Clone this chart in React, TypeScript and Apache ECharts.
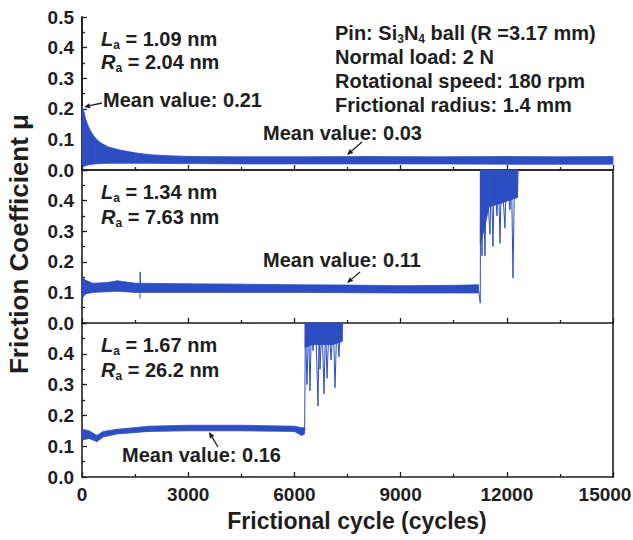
import React, { useEffect, useRef } from "react";
import * as echarts from "echarts";

// ---------- data ----------
const xTicks = [0, 3000, 6000, 9000, 12000, 15000];

// Panel 1 (La = 1.09 nm) noisy band envelope
const p1Cycles = [0, 50, 120, 226, 370, 508, 750, 1073, 1500, 1920, 2600, 3100, 4500, 6000, 8000, 10000, 12000, 13500, 15000];
const p1Lo = [0.02, 0.012, 0.015, 0.018, 0.02, 0.021, 0.022, 0.022, 0.022, 0.022, 0.021, 0.021, 0.02, 0.02, 0.02, 0.02, 0.019, 0.019, 0.019];
const p1Hi = [0.21, 0.19, 0.16, 0.13, 0.105, 0.09, 0.075, 0.065, 0.056, 0.05, 0.046, 0.044, 0.043, 0.043, 0.044, 0.043, 0.044, 0.043, 0.044];

// Panel 2 (La = 1.34 nm)
const p2Cycles = [0, 100, 300, 700, 1000, 1500, 3000, 4500, 6000, 7500, 9000, 10500, 11200];
const p2Lo = [0.08, 0.095, 0.1, 0.102, 0.104, 0.1, 0.1, 0.1, 0.1, 0.099, 0.098, 0.098, 0.098];
const p2Hi = [0.15, 0.14, 0.13, 0.132, 0.138, 0.13, 0.128, 0.127, 0.125, 0.124, 0.122, 0.123, 0.125];
const p2BurstCycles = [11250, 11350, 11500, 11800, 12300];
const p2BurstLo = [0.26, 0.3, 0.38, 0.39, 0.41];
const p2BurstHi = [0.5, 0.5, 0.5, 0.5, 0.5];
const p2SpikeCycles = [11200, 11250, 11260, 11300, 11330, 11384, 11420, 11525, 11560, 11610, 11650, 11723, 11760, 11808, 11850, 11949, 11990, 12090, 12130, 12175, 12220, 12300, 12320];
const p2SpikeVals = [0.11, 0.065, 0.5, 0.22, 0.5, 0.22, 0.5, 0.29, 0.5, 0.25, 0.5, 0.35, 0.5, 0.26, 0.5, 0.31, 0.5, 0.37, 0.5, 0.147, 0.5, 0.41, 0.5];
const p2NoiseCycles = [1640, 1645, 1650];
const p2NoiseVals = [0.08, 0.167, 0.1];

// Panel 3 (La = 1.67 nm)
const p3Cycles = [0, 200, 420, 600, 1000, 1900, 3000, 4500, 6000, 6200, 6290];
const p3Lo = [0.12, 0.125, 0.115, 0.13, 0.14, 0.148, 0.15, 0.15, 0.148, 0.135, 0.14];
const p3Hi = [0.155, 0.15, 0.135, 0.148, 0.155, 0.165, 0.168, 0.168, 0.165, 0.16, 0.16];
const p3BurstCycles = [6300, 6500, 6800, 7100, 7345];
const p3BurstLo = [0.42, 0.43, 0.43, 0.43, 0.44];
const p3BurstHi = [0.5, 0.5, 0.5, 0.5, 0.5];
const p3SpikeCycles = [6290, 6299, 6310, 6356, 6400, 6441, 6480, 6525, 6600, 6667, 6700, 6723, 6780, 6836, 6880, 6921, 6980, 7034, 7100, 7147, 7200, 7260, 7300, 7345, 7360];
const p3SpikeVals = [0.15, 0.15, 0.5, 0.3, 0.5, 0.28, 0.5, 0.41, 0.5, 0.23, 0.5, 0.35, 0.5, 0.27, 0.5, 0.32, 0.5, 0.38, 0.5, 0.29, 0.5, 0.39, 0.5, 0.44, 0.5];

const panelLa = ["1.09", "1.34", "1.67"];
const panelRa = ["2.04", "7.63", "26.2"];
const meanValues = ["0.21", "0.03", "0.11", "0.16"];
const testInfo = ["Normal load: 2 N", "Rotational speed: 180 rpm", "Frictional radius: 1.4 mm"];
const xTitle = "Frictional cycle (cycles)";
const yTitle = "Friction Coefficient μ";

// ---------- style ----------
const BLUE = "#2d4ec2";
const INK = "#1e1e1e";
const FONT = '"Liberation Sans", Arial, sans-serif';
const GRID_LEFT = 82;
const GRID_RIGHT = 20;
const GRID_TOPS = [17, 170, 323];
const GRID_H = [153, 153, 154];

function segments(c: number[], lo: number[], hi: number[]) {
  const out: number[][] = [];
  for (let i = 0; i < c.length - 1; i++) {
    out.push([c[i], lo[i], hi[i], c[i + 1], lo[i + 1], hi[i + 1]]);
  }
  return out;
}

function bandSeries(idx: number, c: number[], lo: number[], hi: number[]) {
  return {
    type: "custom",
    xAxisIndex: idx,
    yAxisIndex: idx,
    silent: true,
    dimensions: ["x0", "lo0", "hi0", "x1", "lo1", "hi1"],
    encode: { x: [0, 3], y: [1, 2, 4, 5] },
    data: segments(c, lo, hi),
    renderItem: (_p: any, api: any) => {
      const a = api.coord([api.value(0), api.value(1)]);
      const b = api.coord([api.value(3), api.value(4)]);
      const cc = api.coord([api.value(3), api.value(5)]);
      const d = api.coord([api.value(0), api.value(2)]);
      return {
        type: "polygon",
        shape: { points: [a, b, cc, d] },
        style: { fill: BLUE, stroke: BLUE, lineWidth: 0.8 },
      };
    },
  };
}

function lineSeries(idx: number, c: number[], v: number[]) {
  return {
    type: "line",
    xAxisIndex: idx,
    yAxisIndex: idx,
    silent: true,
    symbol: "none",
    clip: true,
    lineStyle: { color: BLUE, width: 1 },
    data: c.map((x, i) => [x, v[i]]),
  };
}

function arrow(x1: number, y1: number, x2: number, y2: number) {
  const ang = Math.atan2(y2 - y1, x2 - x1);
  const L = 6, W = 2.6;
  const bx = x2 - L * Math.cos(ang), by = y2 - L * Math.sin(ang);
  const px = -Math.sin(ang) * W, py = Math.cos(ang) * W;
  return [
    { type: "line", shape: { x1, y1, x2: bx, y2: by }, style: { stroke: INK, lineWidth: 1.3 } },
    { type: "polygon", shape: { points: [[x2, y2], [bx + px, by + py], [bx - px, by - py]] }, style: { fill: INK } },
  ];
}

const richStyles = {
  i: { fontFamily: FONT, fontSize: 20, fontWeight: "bold", fontStyle: "italic", fill: INK, color: INK, lineHeight: 24 },
  n: { fontFamily: FONT, fontSize: 20, fontWeight: "bold", fill: INK, color: INK, lineHeight: 24 },
  s: { fontFamily: FONT, fontSize: 12, fontWeight: "bold", fill: INK, color: INK, lineHeight: 12, verticalAlign: "bottom" },
};

function richText(x: number, y: number, text: string) {
  return {
    type: "text",
    x,
    y,
    style: {
      text,
      rich: richStyles,
      font: `bold 20px ${FONT}`,
      fill: INK,
      verticalAlign: "middle",
      textVerticalAlign: "middle",
    },
  };
}

function plainText(x: number, y: number, text: string, size = 20, extra: any = {}) {
  return {
    type: "text",
    x,
    y,
    ...extra,
    style: {
      text,
      font: `bold ${size}px ${FONT}`,
      fill: INK,
      verticalAlign: "middle",
      textVerticalAlign: "middle",
      ...(extra.style || {}),
    },
  };
}

export default function App() {
  const ref = useRef<HTMLDivElement>(null);
  useEffect(() => {
    if (!ref.current) return;
    const chart = echarts.init(ref.current, undefined, { renderer: "svg" });
    const axisLine = { show: true, lineStyle: { color: INK, width: 1.6 } };
    const tickStyle = { color: INK, width: 1.3 };
    const grids = GRID_TOPS.map((t, i) => ({
      left: GRID_LEFT,
      right: GRID_RIGHT,
      top: t,
      height: GRID_H[i],
      containLabel: false,
      outerBoundsMode: "none",
    }));
    const xLast = xTicks[xTicks.length - 1];
    const xAxes: any[] = [];
    const yAxes: any[] = [];
    for (let k = 0; k < 3; k++) {
      xAxes.push({
        gridIndex: k,
        type: "value",
        min: xTicks[0],
        max: xLast,
        interval: xTicks[1] - xTicks[0],
        axisLine,
        axisTick: { show: true, inside: true, length: 5, lineStyle: tickStyle },
        minorTick: { show: true, splitNumber: 2, length: 3, lineStyle: tickStyle },
        splitLine: { show: false },
        axisLabel: {
          show: k === 2,
          color: INK,
          fontFamily: FONT,
          fontWeight: "bold",
          fontSize: 19,
          margin: 8,
          formatter: (v: number) => (v === xLast ? `{r|${v}}` : String(v)),
          rich: {
            r: { fontFamily: FONT, fontWeight: "bold", fontSize: 19, color: INK, padding: [0, 16, 0, 0] },
          },
        },
      });
      yAxes.push({
        gridIndex: k,
        type: "value",
        min: 0,
        max: 0.5,
        interval: 0.1,
        axisLine,
        axisTick: { show: true, inside: true, length: 5, lineStyle: tickStyle },
        minorTick: { show: true, splitNumber: 2, length: 3, lineStyle: tickStyle },
        splitLine: { show: false },
        axisLabel: {
          color: INK,
          fontFamily: FONT,
          fontWeight: "bold",
          fontSize: 19,
          margin: 8,
          formatter: (v: number) => (k > 0 && v > 0.45 ? "" : v.toFixed(1)),
        },
      });
    }
    // frame: right side and top
    for (let k = 0; k < 3; k++) {
      yAxes.push({
        gridIndex: k,
        type: "value",
        position: "right",
        min: 0,
        max: 0.5,
        axisLine,
        axisTick: { show: false },
        axisLabel: { show: false },
        splitLine: { show: false },
      });
    }
    xAxes.push({
      gridIndex: 0,
      type: "value",
      position: "top",
      min: 0,
      max: 15000,
      axisLine,
      axisTick: { show: false },
      axisLabel: { show: false },
      splitLine: { show: false },
    });

    const graphic: any[] = [
      richText(101, 39, `{i|L}{s|a}{n| = ${panelLa[0]} nm}`),
      richText(101, 62, `{i|R}{s|a}{n| = ${panelRa[0]} nm}`),
      plainText(103, 100, `Mean value: ${meanValues[0]}`),
      richText(335, 33, `{n|Pin: Si}{s|3}{n|N}{s|4}{n| ball (R =3.17 mm)}`),
      plainText(335, 57, testInfo[0]),
      plainText(335, 81, testInfo[1]),
      plainText(335, 105, testInfo[2]),
      plainText(263, 133, `Mean value: ${meanValues[1]}`),
      richText(101, 192, `{i|L}{s|a}{n| = ${panelLa[1]} nm}`),
      richText(101, 217, `{i|R}{s|a}{n| = ${panelRa[1]} nm}`),
      plainText(263, 260, `Mean value: ${meanValues[2]}`),
      richText(101, 345, `{i|L}{s|a}{n| = ${panelLa[2]} nm}`),
      richText(101, 370, `{i|R}{s|a}{n| = ${panelRa[2]} nm}`),
      plainText(122, 455, `Mean value: ${meanValues[3]}`),
      ...arrow(102, 103, 84, 107),
      ...arrow(362, 142, 347, 155),
      ...arrow(360, 272, 347, 283),
      ...arrow(218, 447, 209, 432),
      plainText(357, 521, xTitle, 23, { style: { align: "center", textAlign: "center" } }),
      plainText(19, 244, yTitle, 26, { rotation: Math.PI / 2, style: { align: "center", textAlign: "center" } }),
    ];

    chart.setOption({
      animation: false,
      backgroundColor: "#ffffff",
      grid: grids,
      xAxis: xAxes,
      yAxis: yAxes,
      series: [
        bandSeries(0, p1Cycles, p1Lo, p1Hi),
        bandSeries(1, p2Cycles, p2Lo, p2Hi),
        bandSeries(1, p2BurstCycles, p2BurstLo, p2BurstHi),
        lineSeries(1, p2SpikeCycles, p2SpikeVals),
        lineSeries(1, p2NoiseCycles, p2NoiseVals),
        bandSeries(2, p3Cycles, p3Lo, p3Hi),
        bandSeries(2, p3BurstCycles, p3BurstLo, p3BurstHi),
        lineSeries(2, p3SpikeCycles, p3SpikeVals),
      ],
      graphic,
    });
    return () => chart.dispose();
  }, []);
  return <div ref={ref} style={{ position: "fixed", left: 0, top: 0, width: 633, height: 540 }} />;
}
